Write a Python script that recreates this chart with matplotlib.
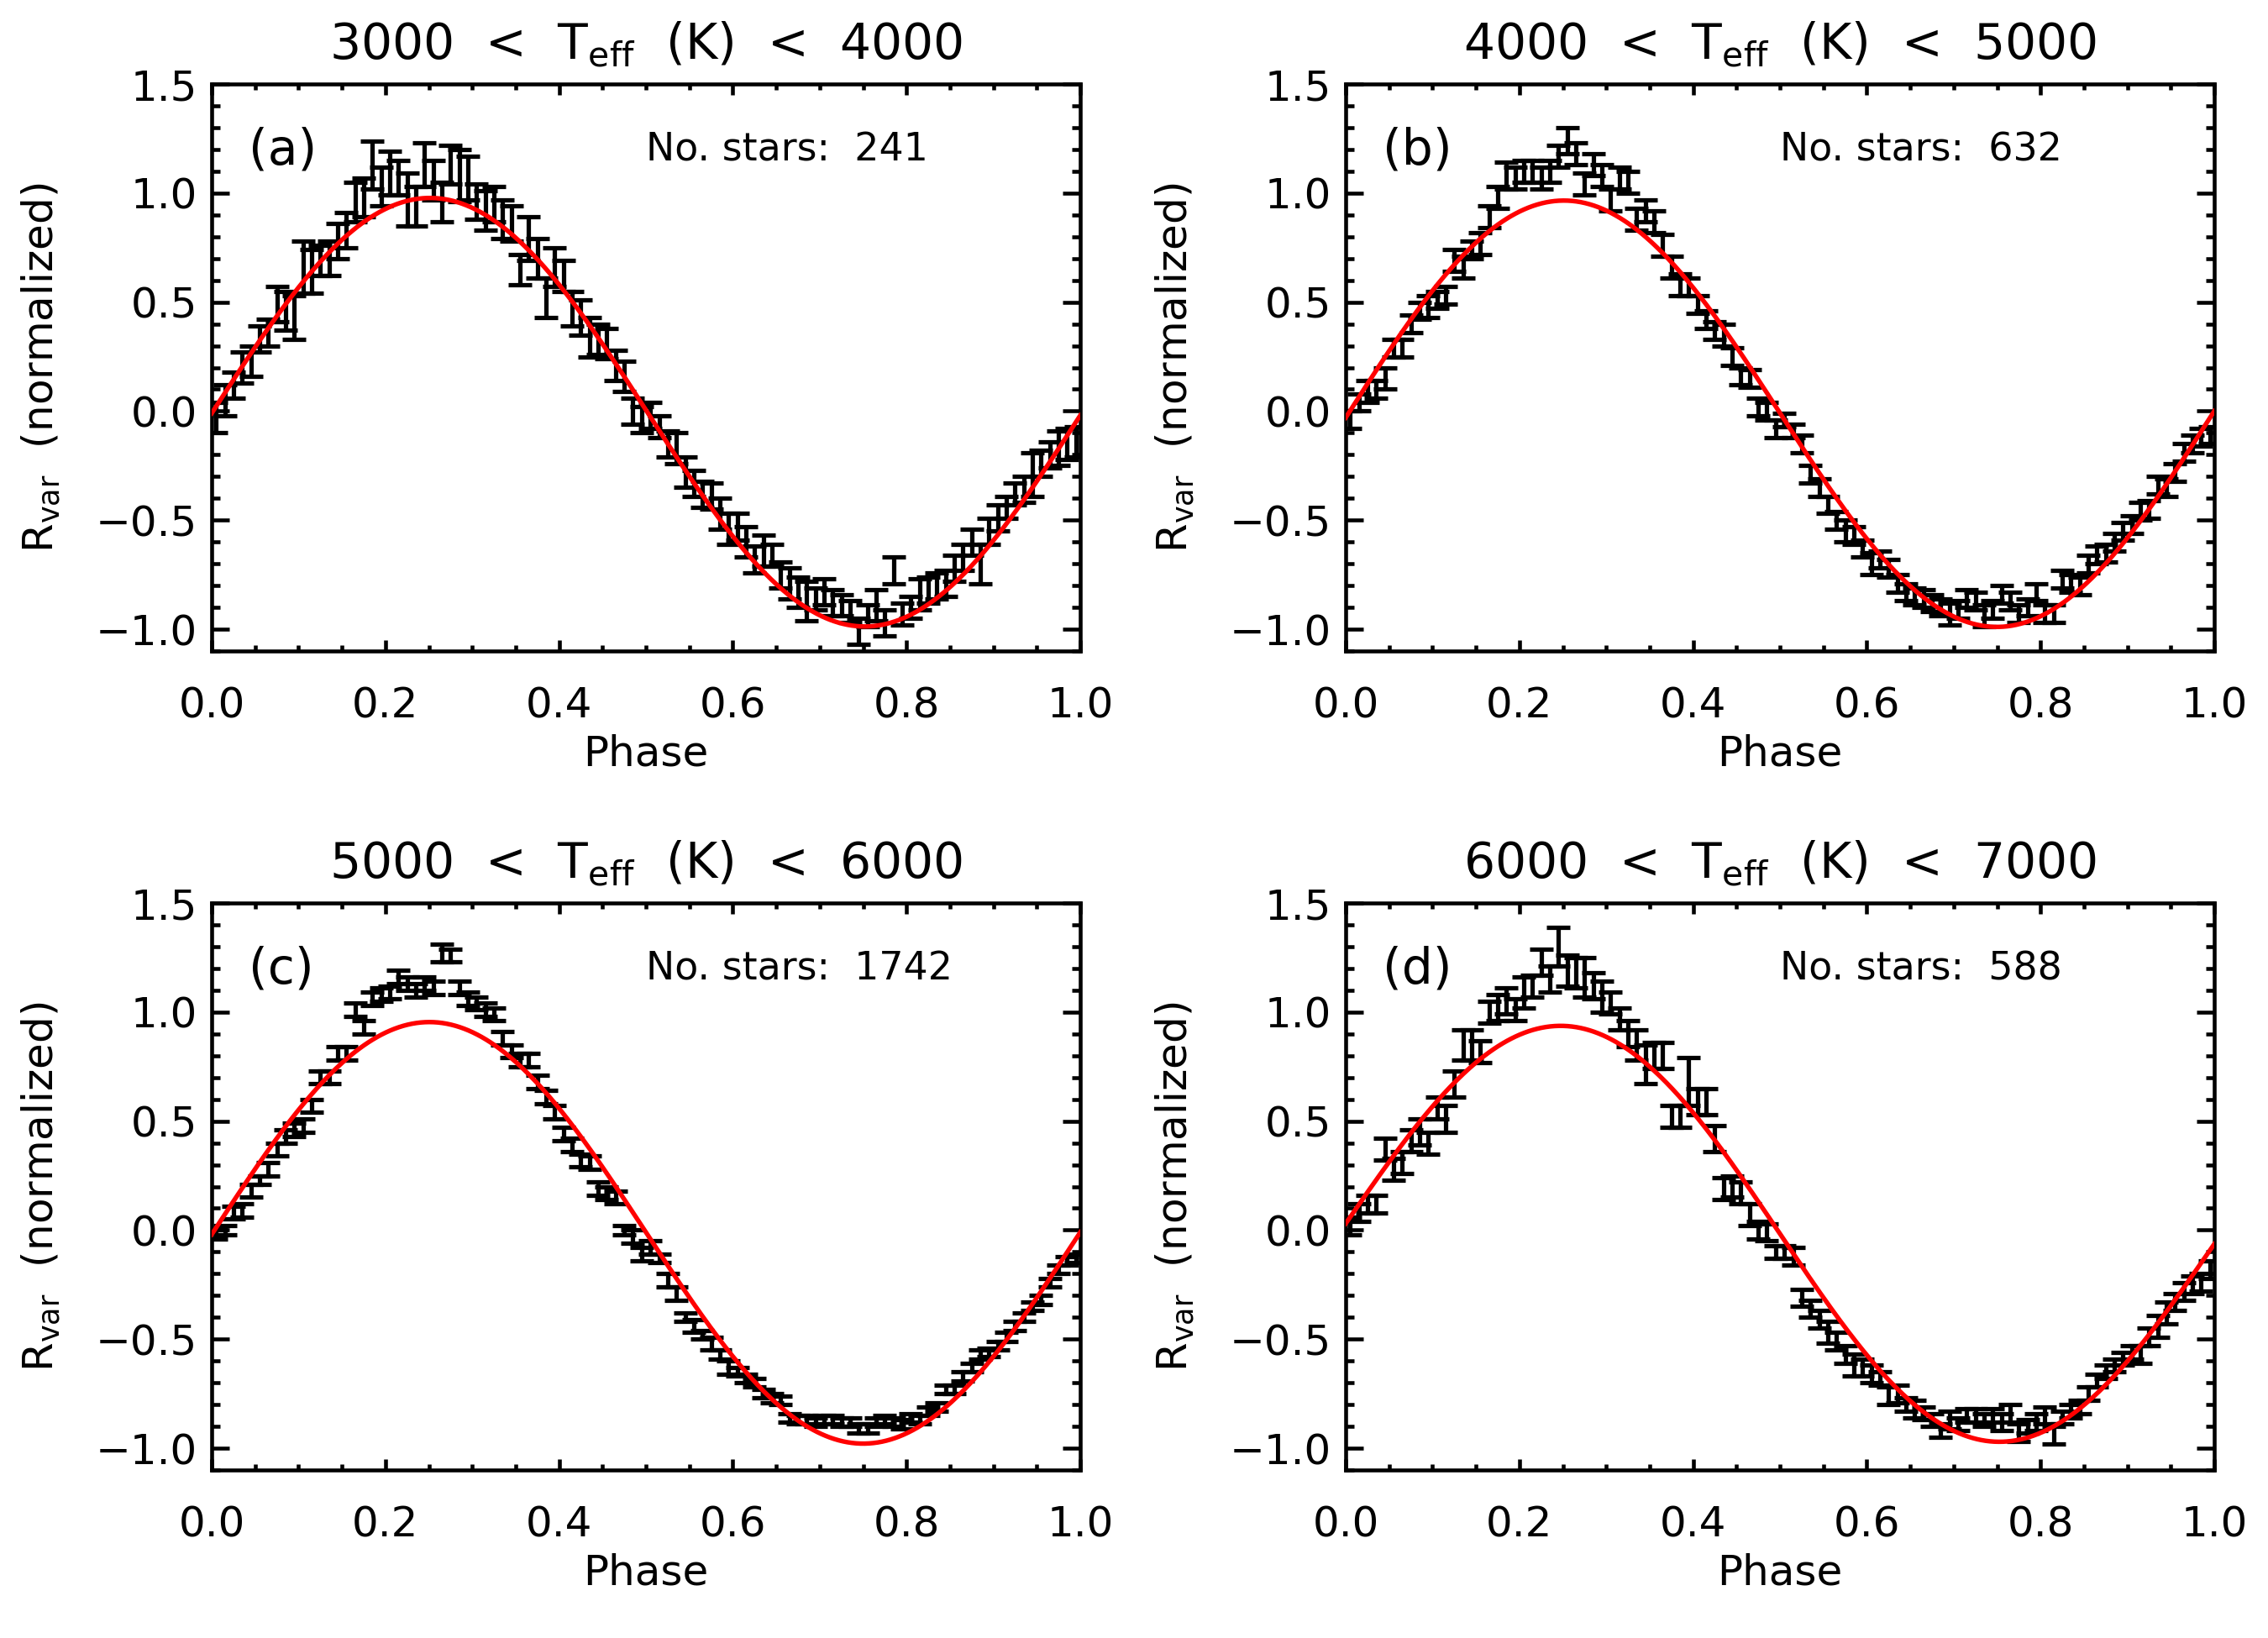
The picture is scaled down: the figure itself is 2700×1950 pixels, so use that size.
import numpy as np
import matplotlib.pyplot as plt
from matplotlib.ticker import MultipleLocator, FuncFormatter

plt.rcParams['font.family'] = ['DejaVu Sans']

# phase bins (centres)
PHASE = np.arange(100) * 0.01 + 0.005

TITLES = ['3000  <  T$_{\\rm eff}$  (K)  <  4000',
          '4000  <  T$_{\\rm eff}$  (K)  <  5000',
          '5000  <  T$_{\\rm eff}$  (K)  <  6000',
          '6000  <  T$_{\\rm eff}$  (K)  <  7000']
PANEL_TAGS = ['(a)', '(b)', '(c)', '(d)']
N_STARS = [241, 632, 1742, 588]

# binned R_var values
rvar_a = [-0.03, 0.05, 0.12, 0.20, 0.23, 0.33, 0.36, 0.49, 0.46, 0.43,
          0.66, 0.64, 0.69, 0.70, 0.78, 0.83, 0.96, 0.98, 1.13, 1.03,
          1.09, 1.07, 0.97, 0.94, 1.13, 1.06, 0.96, 1.13, 1.08, 1.07,
          0.96, 0.92, 0.95, 0.88, 0.86, 0.65, 0.79, 0.70, 0.52, 0.66,
          0.62, 0.47, 0.43, 0.34, 0.33, 0.31, 0.21, 0.16, 0.00, -0.04,
          -0.02, -0.07, -0.15, -0.17, -0.28, -0.33, -0.38, -0.39, -0.47, -0.54,
          -0.53, -0.60, -0.68, -0.64, -0.66, -0.75, -0.79, -0.83, -0.87, -0.86,
          -0.83, -0.88, -0.89, -0.92, -1.01, -0.94, -0.89, -0.97, -0.73, -0.93,
          -0.90, -0.84, -0.82, -0.80, -0.79, -0.72, -0.67, -0.60, -0.70, -0.55,
          -0.49, -0.44, -0.38, -0.36, -0.29, -0.24, -0.20, -0.17, -0.15, -0.14]
err_a = [0.07, 0.07, 0.06, 0.07, 0.07, 0.06, 0.06, 0.08, 0.09, 0.10,
         0.12, 0.10, 0.07, 0.08, 0.08, 0.08, 0.09, 0.09, 0.11, 0.09,
         0.10, 0.08, 0.12, 0.09, 0.10, 0.09, 0.09, 0.09, 0.12, 0.10,
         0.08, 0.09, 0.08, 0.09, 0.08, 0.07, 0.10, 0.09, 0.09, 0.09,
         0.07, 0.08, 0.08, 0.09, 0.07, 0.07, 0.07, 0.07, 0.06, 0.06,
         0.06, 0.05, 0.06, 0.07, 0.07, 0.06, 0.06, 0.06, 0.07, 0.07,
         0.06, 0.07, 0.06, 0.07, 0.05, 0.06, 0.07, 0.07, 0.09, 0.05,
         0.06, 0.06, 0.05, 0.05, 0.06, 0.05, 0.07, 0.06, 0.06, 0.05,
         0.05, 0.07, 0.06, 0.06, 0.06, 0.06, 0.06, 0.06, 0.09, 0.06,
         0.06, 0.05, 0.05, 0.06, 0.10, 0.06, 0.06, 0.08, 0.07, 0.07]

rvar_b = [-0.04, 0.04, 0.09, 0.10, 0.15, 0.29, 0.29, 0.40, 0.46, 0.48,
          0.51, 0.53, 0.69, 0.66, 0.74, 0.77, 0.89, 0.98, 1.08, 1.07,
          1.10, 1.10, 1.07, 1.10, 1.17, 1.24, 1.18, 1.04, 1.13, 1.08,
          0.97, 1.07, 1.05, 0.88, 0.92, 0.87, 0.76, 0.66, 0.58, 0.57,
          0.49, 0.42, 0.37, 0.35, 0.25, 0.16, 0.15, 0.02, 0.00, -0.08,
          -0.04, -0.09, -0.15, -0.29, -0.35, -0.43, -0.50, -0.55, -0.57, -0.63,
          -0.70, -0.68, -0.72, -0.79, -0.83, -0.85, -0.86, -0.88, -0.90, -0.93,
          -0.91, -0.86, -0.87, -0.94, -0.91, -0.84, -0.87, -0.93, -0.90, -0.83,
          -0.93, -0.93, -0.77, -0.79, -0.80, -0.70, -0.66, -0.65, -0.60, -0.55,
          -0.52, -0.46, -0.45, -0.34, -0.35, -0.28, -0.19, -0.15, -0.12, -0.11]
err_b = [0.04, 0.04, 0.05, 0.04, 0.05, 0.04, 0.04, 0.04, 0.04, 0.05,
         0.04, 0.04, 0.05, 0.05, 0.04, 0.05, 0.05, 0.05, 0.06, 0.05,
         0.05, 0.05, 0.05, 0.05, 0.05, 0.06, 0.05, 0.05, 0.05, 0.05,
         0.05, 0.05, 0.05, 0.05, 0.05, 0.05, 0.05, 0.05, 0.05, 0.04,
         0.04, 0.04, 0.04, 0.05, 0.04, 0.04, 0.04, 0.04, 0.04, 0.04,
         0.03, 0.03, 0.04, 0.04, 0.04, 0.04, 0.04, 0.05, 0.04, 0.04,
         0.05, 0.04, 0.04, 0.04, 0.04, 0.04, 0.04, 0.04, 0.04, 0.05,
         0.04, 0.04, 0.04, 0.05, 0.04, 0.04, 0.04, 0.04, 0.04, 0.04,
         0.04, 0.04, 0.04, 0.04, 0.04, 0.04, 0.04, 0.04, 0.04, 0.04,
         0.04, 0.04, 0.04, 0.04, 0.04, 0.04, 0.04, 0.04, 0.04, 0.04]

rvar_c = [-0.02, 0.00, 0.08, 0.09, 0.18, 0.23, 0.28, 0.37, 0.43, 0.46,
          0.48, 0.57, 0.70, 0.70, 0.81, 0.81, 1.01, 0.93, 1.06, 1.08,
          1.09, 1.16, 1.13, 1.10, 1.13, 1.11, 1.27, 1.26, 1.11, 1.06,
          1.04, 1.01, 0.99, 0.88, 0.82, 0.78, 0.78, 0.68, 0.61, 0.54,
          0.44, 0.39, 0.32, 0.31, 0.19, 0.17, 0.15, 0.00, -0.03, -0.11,
          -0.08, -0.13, -0.23, -0.29, -0.40, -0.44, -0.48, -0.52, -0.57, -0.63,
          -0.65, -0.68, -0.70, -0.75, -0.77, -0.78, -0.86, -0.87, -0.87, -0.88,
          -0.87, -0.87, -0.88, -0.88, -0.91, -0.91, -0.88, -0.87, -0.88, -0.89,
          -0.86, -0.87, -0.83, -0.81, -0.73, -0.73, -0.67, -0.63, -0.57, -0.56,
          -0.53, -0.49, -0.44, -0.40, -0.35, -0.32, -0.24, -0.18, -0.14, -0.13]
err_c = [0.02, 0.02, 0.03, 0.03, 0.03, 0.02, 0.03, 0.03, 0.03, 0.03,
         0.03, 0.03, 0.03, 0.03, 0.03, 0.03, 0.03, 0.03, 0.03, 0.03,
         0.03, 0.03, 0.03, 0.03, 0.03, 0.03, 0.04, 0.03, 0.03, 0.03,
         0.03, 0.03, 0.03, 0.03, 0.03, 0.03, 0.03, 0.03, 0.03, 0.03,
         0.03, 0.03, 0.03, 0.03, 0.03, 0.03, 0.03, 0.02, 0.03, 0.03,
         0.03, 0.02, 0.03, 0.03, 0.02, 0.03, 0.02, 0.03, 0.02, 0.03,
         0.02, 0.02, 0.02, 0.02, 0.02, 0.02, 0.02, 0.02, 0.02, 0.02,
         0.02, 0.02, 0.02, 0.02, 0.02, 0.02, 0.02, 0.02, 0.02, 0.02,
         0.02, 0.02, 0.02, 0.02, 0.02, 0.02, 0.02, 0.02, 0.02, 0.02,
         0.02, 0.02, 0.02, 0.02, 0.02, 0.02, 0.02, 0.02, 0.02, 0.02]

rvar_d = [0.02, 0.08, 0.12, 0.12, 0.37, 0.28, 0.31, 0.41, 0.45, 0.40,
          0.56, 0.51, 0.67, 0.85, 0.85, 0.82, 1.00, 1.02, 1.05, 1.01,
          1.09, 1.12, 1.23, 1.15, 1.30, 1.19, 1.18, 1.16, 1.12, 1.07,
          1.04, 0.97, 0.90, 0.85, 0.76, 0.80, 0.80, 0.52, 0.52, 0.68,
          0.59, 0.59, 0.42, 0.19, 0.20, 0.17, 0.07, 0.00, -0.01, -0.10,
          -0.10, -0.12, -0.31, -0.36, -0.41, -0.47, -0.51, -0.57, -0.62, -0.63,
          -0.66, -0.68, -0.76, -0.75, -0.80, -0.82, -0.84, -0.87, -0.92, -0.87,
          -0.89, -0.85, -0.85, -0.87, -0.85, -0.88, -0.84, -0.93, -0.90, -0.88,
          -0.85, -0.94, -0.86, -0.83, -0.81, -0.75, -0.69, -0.65, -0.62, -0.59,
          -0.56, -0.57, -0.49, -0.44, -0.38, -0.33, -0.28, -0.25, -0.24, -0.18]
err_d = [0.04, 0.04, 0.04, 0.04, 0.05, 0.05, 0.05, 0.05, 0.06, 0.05,
         0.05, 0.06, 0.06, 0.07, 0.07, 0.05, 0.05, 0.06, 0.06, 0.05,
         0.07, 0.05, 0.06, 0.06, 0.09, 0.07, 0.07, 0.09, 0.06, 0.07,
         0.05, 0.05, 0.06, 0.07, 0.09, 0.06, 0.06, 0.05, 0.05, 0.11,
         0.06, 0.06, 0.06, 0.05, 0.05, 0.05, 0.05, 0.04, 0.04, 0.03,
         0.03, 0.04, 0.04, 0.04, 0.04, 0.05, 0.04, 0.04, 0.05, 0.04,
         0.04, 0.03, 0.04, 0.04, 0.03, 0.04, 0.03, 0.03, 0.03, 0.04,
         0.03, 0.03, 0.03, 0.03, 0.03, 0.04, 0.04, 0.04, 0.03, 0.04,
         0.04, 0.04, 0.03, 0.03, 0.03, 0.03, 0.03, 0.03, 0.03, 0.03,
         0.03, 0.04, 0.04, 0.05, 0.05, 0.04, 0.04, 0.04, 0.04, 0.04]

RVAR = [rvar_a, rvar_b, rvar_c, rvar_d]
ERRS = [err_a, err_b, err_c, err_d]

# sinusoidal fit parameters (amplitude, phase shift, offset, linear term)
FIT_AMP = [0.98, 0.985, 0.969, 0.93]
FIT_SHIFT = [0.0016, 0.0005, 0.0004, 0.0]
FIT_OFFSET = [0.0, -0.027, -0.0175, 0.03]
FIT_SLOPE = [-0.01, 0.03, 0.01, -0.094]

W, H = 2700, 1950
fig = plt.figure(figsize=(9, 6.5), dpi=300)

fmt = FuncFormatter(lambda v, p: f'{v:.1f}'.replace('-', '\u2212'))
xx = np.linspace(0, 1, 400)

for k in range(4):
    row, col = divmod(k, 2)
    left = [252, 1602][col]
    bottom = [775, 1750][row]
    ax = fig.add_axes([left / W, (H - bottom) / H, 1034 / W, 675 / H])

    ax.errorbar(PHASE, RVAR[k], yerr=ERRS[k], fmt='none', ecolor='black',
                elinewidth=1.25, capsize=3.3, capthick=1.25, zorder=2)
    fit = (FIT_AMP[k] * np.sin(2 * np.pi * (xx - FIT_SHIFT[k]))
           + FIT_OFFSET[k] + FIT_SLOPE[k] * xx)
    ax.plot(xx, fit, color='red', lw=1.3, zorder=3)

    ax.set_xlim(0, 1)
    ax.set_ylim(-1.1, 1.5)
    ax.xaxis.set_major_locator(MultipleLocator(0.2))
    ax.xaxis.set_minor_locator(MultipleLocator(0.05))
    ax.yaxis.set_major_locator(MultipleLocator(0.5))
    ax.yaxis.set_minor_locator(MultipleLocator(0.1))
    ax.xaxis.set_major_formatter(fmt)
    ax.yaxis.set_major_formatter(fmt)
    ax.tick_params(which='both', direction='in', top=True, right=True,
                   width=1.1, labelsize=12)
    ax.tick_params(axis='x', which='major', length=3.1, pad=10)
    ax.tick_params(axis='x', which='minor', length=1.7)
    ax.tick_params(axis='y', which='major', length=5.0, pad=4)
    ax.tick_params(axis='y', which='minor', length=2.5)
    for s in ax.spines.values():
        s.set_linewidth(1.1)

    ax.text(0.5, 1.045, TITLES[k], transform=ax.transAxes, ha='center',
            va='baseline', fontsize=14)
    ax.text(0.5, -0.181, 'Phase', transform=ax.transAxes, ha='center',
            va='center', fontsize=12)
    ax.text(-0.197, 0.5, 'R$_{\\rm var}$  (normalized)', transform=ax.transAxes,
            rotation=90, ha='center', va='center', fontsize=12)
    ax.text(0.043, 0.883, PANEL_TAGS[k], transform=ax.transAxes, ha='left',
            va='center', fontsize=14)
    ax.text(0.5, 0.883, f'No. stars:  {N_STARS[k]}', transform=ax.transAxes,
            ha='left', va='center', fontsize=11)

fig.savefig('out.png', dpi=300)
